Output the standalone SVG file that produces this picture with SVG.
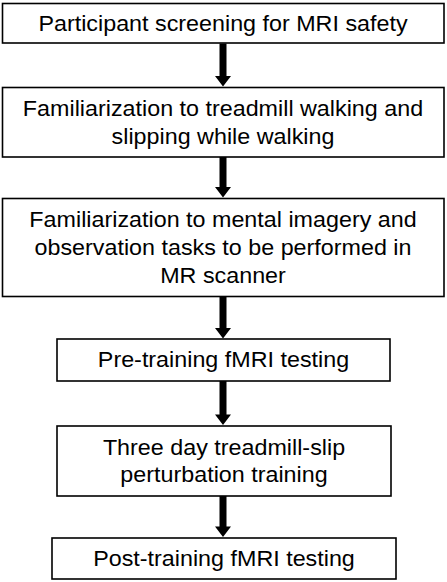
<svg xmlns="http://www.w3.org/2000/svg" width="447" height="582" viewBox="0 0 447 582">
<style>
.box{fill:#fff;stroke:#000;stroke-width:1.6}
.t{font-family:"Liberation Sans",Arial,sans-serif;font-size:22px;fill:#000;text-anchor:middle}
.arr{fill:#000}
</style>
<rect width="447" height="582" fill="#fff"/>
<g id="connectors">
<path class="arr" d="M219.5,43.5 h7 v32.5 h4.5 l-8,10.5 l-8,-10.5 h4.5 z"/>
<path class="arr" d="M219.5,157 h7 v30 h4.5 l-8,10.5 l-8,-10.5 h4.5 z"/>
<path class="arr" d="M219.5,297 h7 v31 h4.5 l-8,10.5 l-8,-10.5 h4.5 z"/>
<path class="arr" d="M219.5,381 h7 v33.5 h4.5 l-8,10.5 l-8,-10.5 h4.5 z"/>
<path class="arr" d="M219.5,496 h7 v30.5 h4.5 l-8,10.5 l-8,-10.5 h4.5 z"/>
</g>
<g id="n1">
<rect class="box" x="2.5" y="3.5" width="441.5" height="39.5"/>
<text class="t" transform="translate(223 0) scale(1.06 1)" y="31">Participant screening for MRI safety</text>
</g>
<g id="n2">
<rect class="box" x="2.5" y="87.5" width="441.5" height="69.5"/>
<text class="t" transform="translate(223 0) scale(1.06 1)" y="116">Familiarization to treadmill walking and</text>
<text class="t" transform="translate(223 0) scale(1.06 1)" y="144.5">slipping while walking</text>
</g>
<g id="n3">
<rect class="box" x="2.5" y="198.5" width="441.5" height="98"/>
<text class="t" transform="translate(223 0) scale(1.06 1)" y="227">Familiarization to mental imagery and</text>
<text class="t" transform="translate(223 0) scale(1.06 1)" y="255">observation tasks to be performed in</text>
<text class="t" transform="translate(223 0) scale(1.06 1)" y="283">MR scanner</text>
</g>
<g id="n4">
<rect class="box" x="57" y="339" width="333" height="42"/>
<text class="t" transform="translate(223.5 0) scale(1.06 1)" y="367.5">Pre-training fMRI testing</text>
</g>
<g id="n5">
<rect class="box" x="57" y="426" width="334" height="70"/>
<text class="t" transform="translate(224 0) scale(1.06 1)" y="455">Three day treadmill-slip</text>
<text class="t" transform="translate(224 0) scale(1.06 1)" y="482.5">perturbation training</text>
</g>
<g id="n6">
<rect class="box" x="52" y="538" width="344" height="41"/>
<text class="t" transform="translate(224 0) scale(1.06 1)" y="566.5">Post-training fMRI testing</text>
</g>
</svg>
